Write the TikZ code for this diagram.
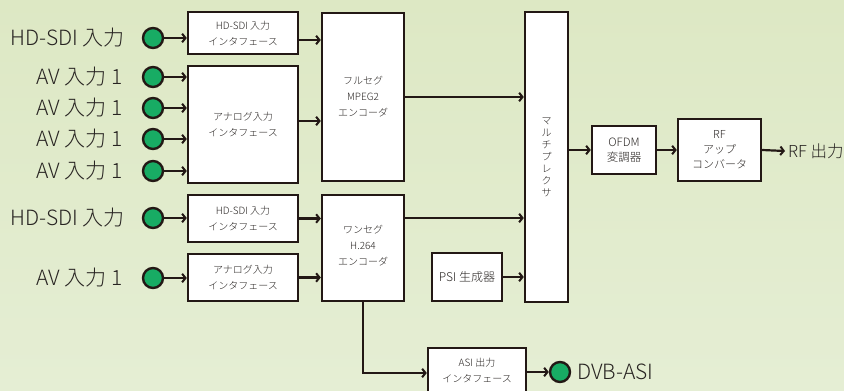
\documentclass[tikz,border=0pt]{standalone}
\usepackage{fontspec}
\setmainfont{Noto Sans CJK JP Light}
\usetikzlibrary{arrows.meta,calc}
\definecolor{ink}{RGB}{35,24,21}
\definecolor{txt}{RGB}{40,36,34}
\definecolor{jack}{RGB}{24,172,100}
\definecolor{bgtop}{RGB}{221,232,196}
\definecolor{bgbot}{RGB}{229,238,212}
\tikzset{
  blk/.style={draw=ink, line width=2.4pt, fill=white, text=txt, align=center,
    inner sep=0pt, font=\fontsize{10}{16}\selectfont},
  arr/.style={draw=ink, line width=2.2pt, -{Straight Barb[length=3.4pt,width=8.5pt,line width=2pt]}},
  jackc/.style={circle, draw=ink, line width=2.4pt, fill=jack, minimum size=20pt, inner sep=0pt},
  biglbl/.style={text=txt, inner sep=0pt, font=\fontsize{21}{25}\selectfont},
}
\begin{document}
\begin{tikzpicture}[x=1pt,y=-1pt]
\shade[top color=bgtop, bottom color=bgbot] (0,0) rectangle (844,391);
\useasboundingbox (0,0) rectangle (844,391);

% boxes
\node[blk, minimum width=110pt, minimum height=42pt] (hd1) at (243,33) {HD-SDI 入力\\インタフェース};
\node[blk, minimum width=110pt, minimum height=117pt] (an1) at (243,124.5) {アナログ入力\\インタフェース};
\node[blk, minimum width=82pt, minimum height=168pt] (enc1) at (363,97) {フルセグ\\MPEG2\\エンコーダ};
\node[blk, minimum width=110pt, minimum height=47pt] (hd2) at (243,218.5) {HD-SDI 入力\\インタフェース};
\node[blk, minimum width=110pt, minimum height=47pt] (an2) at (243,277.5) {アナログ入力\\インタフェース};
\node[blk, minimum width=82pt, minimum height=106pt] (enc2) at (363,248) {ワンセグ\\H.264\\エンコーダ\\[-10pt]};
\node[blk, minimum width=70pt, minimum height=48pt, font=\fontsize{12}{16}\selectfont] (psi) at (467,277) {PSI 生成器};
\node[blk, minimum width=43pt, minimum height=290pt, font=\fontsize{10}{12}\selectfont] (mux) at (546.5,157) {マ\\ル\\チ\\プ\\レ\\ク\\サ};
\node[blk, minimum width=64pt, minimum height=48pt, font=\fontsize{11.5}{15}\selectfont] (ofdm) at (624,150) {OFDM\\変調器};
\node[blk, minimum width=83pt, minimum height=62pt, font=\fontsize{11}{15}\selectfont] (rf) at (719.5,150) {RF\\アップ\\コンバータ};
\node[blk, minimum width=98pt, minimum height=50pt] (asi) at (477,373) {ASI 出力\\インタフェース\\[-11pt]};

% input jacks
\node[jackc] (c1) at (153,38) {};
\node[jackc] (c2) at (153,77) {};
\node[jackc] (c3) at (153,108) {};
\node[jackc] (c4) at (153,139) {};
\node[jackc] (c5) at (153,171) {};
\node[jackc] (c6) at (153,218) {};
\node[jackc] (c7) at (153,278) {};
\node[jackc] (c8) at (560,372) {};

% labels
\node[biglbl, anchor=east] (l1) at (125,38) {HD-SDI 入力};
\node[biglbl, anchor=east] (l2) at (123,77) {AV 入力 1};
\node[biglbl, anchor=east] (l3) at (123,108) {AV 入力 1};
\node[biglbl, anchor=east] (l4) at (123,139) {AV 入力 1};
\node[biglbl, anchor=east] (l5) at (123,171) {AV 入力 1};
\node[biglbl, anchor=east] (l6) at (125,218) {HD-SDI 入力};
\node[biglbl, anchor=east] (l7) at (123,278) {AV 入力 1};
\node[biglbl, anchor=west] (l8) at (577,372) {DVB-ASI};
\node[biglbl, anchor=west, font=\fontsize{16.5}{20}\selectfont] (l9) at (788,151) {RF 出力};

% connectors
\draw[arr] (c1) -- (c1 -| hd1.west);
\draw[arr] (c2) -- (c2 -| an1.west);
\draw[arr] (c3) -- (c3 -| an1.west);
\draw[arr] (c4) -- (c4 -| an1.west);
\draw[arr] (c5) -- (c5 -| an1.west);
\draw[arr] (c6) -- (c6 -| hd2.west);
\draw[arr] (c7) -- (c7 -| an2.west);
\draw[arr] ([yshift=-7pt]hd1.east) -- ([yshift=-7pt]hd1.east -| enc1.west);
\draw[arr] ([yshift=3.5pt]an1.east) -- ([yshift=3.5pt]an1.east -| enc1.west);
\draw[arr] (enc1.east) -- (enc1.east -| mux.west);
\draw[arr] (hd2.east) -- (hd2.east -| enc2.west);
\draw[arr] (an2.east) -- (an2.east -| enc2.west);
\draw[arr] ([yshift=30pt]enc2.east) -- ([yshift=30pt]enc2.east -| mux.west);
\draw[arr] (psi.east) -- (psi.east -| mux.west);
\draw[arr] (ofdm.west -| mux.east) -- (ofdm.west);
\draw[arr] (ofdm.east) -- (rf.west);
\draw[arr] (rf.east) -- ([xshift=-3pt]l9.west);
\draw[arr] (enc2.south) |- (asi.west);
\draw[arr] (c8 -| asi.east) -- (c8.west);
\end{tikzpicture}
\end{document}
